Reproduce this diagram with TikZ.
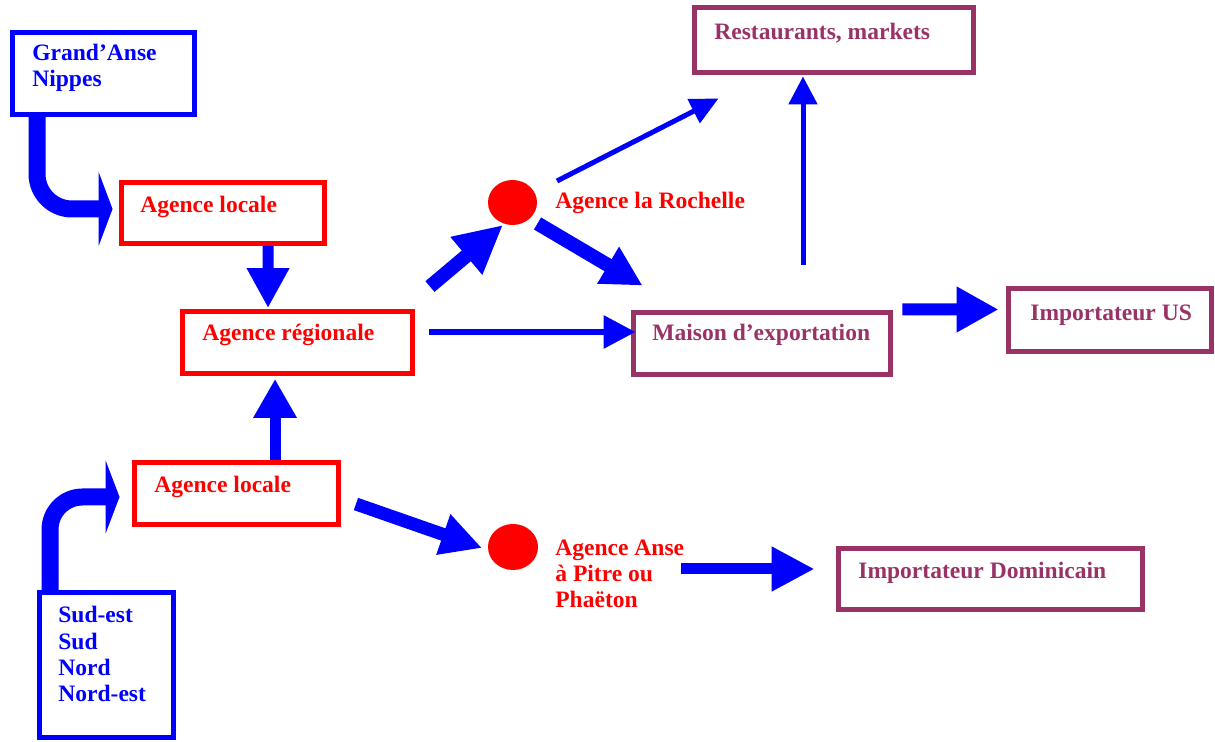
\documentclass[tikz,border=0pt]{standalone}
\usepackage{fontspec}
\setmainfont{Liberation Serif}
\usetikzlibrary{arrows.meta,calc,shapes.geometric}
\definecolor{flowblue}{HTML}{0000FF}
\definecolor{agred}{HTML}{FF0000}
\definecolor{plum}{HTML}{993366}
\begin{document}
\begin{tikzpicture}[x=0.02cm,y=-0.02cm,
  sz/.style 2 args={minimum width=#1*0.02cm, minimum height=#2*0.02cm},
  box/.style={rectangle, draw, line width=2.8pt, inner sep=0pt},
  bluebox/.style={box, draw=flowblue},
  redbox/.style={box, draw=agred},
  plumbox/.style={box, draw=plum},
  % multi-line texts are placed by the baseline of their last line
  txt/.style={anchor=base west, inner sep=0pt, align=left,
    font=\fontsize{13.4}{15}\selectfont\bfseries},
  bluetxt/.style={txt, text=flowblue},
  redtxt/.style={txt, text=agred},
  plumtxt/.style={txt, text=plum},
  dot/.style={ellipse, fill=agred, inner sep=0pt},
]
\useasboundingbox (0,0) rectangle (1215,742);

% boxes
\node[bluebox, sz={182}{82}]  (ga)  at (103.5,73.5) {};
\node[redbox,  sz={203}{61}]  (al1) at (223,213) {};
\node[redbox,  sz={230}{62}]  (ar)  at (297.5,342.5) {};
\node[redbox,  sz={204}{62}]  (al2) at (236.5,493.5) {};
\node[bluebox, sz={134}{145}] (se)  at (106.5,665) {};
\node[plumbox, sz={279}{65}]  (rm)  at (834,40) {};
\node[plumbox, sz={257}{62}]  (me)  at (762,343.5) {};
\node[plumbox, sz={203}{63}]  (ius) at (1110,320) {};
\node[plumbox, sz={304}{61}]  (id)  at (990.5,579) {};

% agencies drawn as dots
\node[dot, minimum width=49*0.02cm, minimum height=45*0.02cm] (lr) at (512.5,202.5) {};
\node[dot, minimum width=50*0.02cm, minimum height=46*0.02cm] (ap) at (513,547) {};

% texts
\node[bluetxt] (t-ga)  at (32,87)   {Grand’Anse\\Nippes};
\node[redtxt]  (t-al1) at (140,213) {Agence locale};
\node[redtxt]  (t-ar)  at (202,341) {Agence régionale};
\node[redtxt]  (t-al2) at (154,493) {Agence locale};
\node[bluetxt] (t-se)  at (58,702)  {Sud-est\\Sud\\Nord\\Nord-est};
\node[plumtxt] (t-rm)  at (714,40)  {Restaurants, markets};
\node[plumtxt] (t-me)  at (652,341) {Maison d’exportation};
\node[plumtxt] (t-ius) at (1030,321) {Importateur US};
\node[plumtxt] (t-id)  at (858,579) {Importateur Dominicain};
\node[redtxt]  (t-lr)  at (555,209) {Agence la Rochelle};
\node[redtxt]  (t-ap)  at (555,608) {Agence Anse\\à Pitre ou\\Phaëton};

% bent feeder arrows
\draw[flowblue, line width=0.34cm, rounded corners=0.7cm,
      -{Triangle[length=0.28cm, width=1.48cm]}]
  ($(ga.south west)+(27,0)$) |- ($(al1.west)+(-6.5,-4)$);
\draw[flowblue, line width=0.34cm, rounded corners=0.65cm,
      -{Triangle[length=0.28cm, width=1.46cm]}]
  ($(se.north west)+(13,0)$) |- ($(al2.west)+(-12.5,3.5)$);

% thick arrows
\draw[flowblue, line width=0.22cm, -{Triangle[length=0.8cm, width=0.8cm]}]
  ($(al1.south west)+(149,0)$) -- ($(ar.north west)+(88,-1)$);
\draw[flowblue, line width=0.22cm, -{Triangle[length=0.78cm, width=0.82cm]}]
  ($(al2.north west)+(143,0)$) -- ($(ar.south west)+(95,3)$);
\draw[flowblue, line width=0.28cm, -{Triangle[length=0.96cm, width=0.92cm]}]
  ($(ar.north east)+(15,-22.5)$) -- ($(lr.center)+(-9.5,22.5)$);
\draw[flowblue, line width=0.28cm, -{Triangle[length=0.8cm, width=0.8cm]}]
  ($(lr.center)+(25,21)$) -- ($(me.north west)+(11.5,-24.5)$);
\draw[flowblue, line width=0.24cm, -{Triangle[length=0.84cm, width=0.86cm]}]
  ($(me.east)+(9.5,-34)$) -- ($(ius.west)+(-7.5,-10.5)$);
\draw[flowblue, line width=0.26cm, -{Triangle[length=0.82cm, width=0.8cm]}]
  ($(al2.east)+(15,10.5)$) -- ($(ap.center)+(-31,1)$);
\draw[flowblue, line width=0.22cm, -{Triangle[length=0.86cm, width=0.84cm]}]
  ($(ap.center)+(168,22)$) -- ($(id.west)+(-21.5,-10)$);

% thin arrows
\draw[flowblue, line width=0.12cm, -{Triangle[length=0.64cm, width=0.64cm]}]
  ($(ar.east)+(14.5,-10.5)$) -- ($(me.west)+(4.5,-11.5)$);
\draw[flowblue, line width=0.1cm, -{Triangle[length=0.56cm, width=0.52cm]}]
  ($(lr.center)+(44.5,-21.5)$) -- ($(rm.south west)+(26.5,23.5)$);
\draw[flowblue, line width=0.1cm, -{Triangle[length=0.56cm, width=0.56cm]}]
  ($(me.north)+(41,-45.5)$) -- ($(rm.south)+(-31,1.5)$);
\end{tikzpicture}
\end{document}
